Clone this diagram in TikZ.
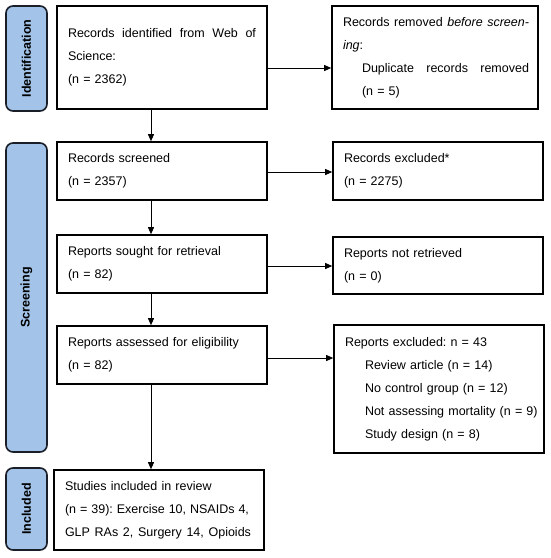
\documentclass[tikz,border=0pt]{standalone}
\usepackage{fontspec}
\setmainfont{Liberation Sans}
\usetikzlibrary{arrows.meta}
\definecolor{stageblue}{RGB}{163,196,232}
\definecolor{stageline}{RGB}{25,30,40}
\tikzset{
  box/.style={draw=black, line width=1.6pt, inner xsep=11pt, inner ysep=0pt,
    align=left, font=\frenchspacing\fontsize{12.5}{23}\selectfont, anchor=center},
  stage/.style={draw=stageline, line width=1.6pt, fill=stageblue, rounded corners=7pt,
    font=\bfseries\fontsize{12.5}{15}\selectfont, rotate=90, inner sep=0pt, anchor=center},
  arr/.style={-{Triangle[length=7pt,width=6pt]}, line width=0.8pt}
}
\newcommand{\jline}[2]{\makebox[#1][s]{\spaceskip=0.3em plus 1fil\relax #2}}
\newcommand{\iline}[1]{\hspace*{20pt}\mbox{#1}}
\begin{document}
\begin{tikzpicture}[x=1pt,y=-1pt]
\useasboundingbox (0,0) rectangle (550,558);
% stage labels
\node[stage, minimum width=105pt, minimum height=41pt] (lid) at (26.5,58.5) {Identification};
\node[stage, minimum width=309pt, minimum height=41pt] (lsc) at (26.5,297.5) {Screening};
\node[stage, minimum width=82pt, minimum height=41pt] (lin) at (26.5,509) {Included};
% left column
\node[box, minimum width=210pt, minimum height=103pt, text width=188pt] (id1) at (162,57.5)
  {\jline{188pt}{Records identified from Web of}\\Science:\\(n = 2362)};
\node[box, minimum width=210pt, minimum height=58pt, text width=188pt] (scr) at (162,171)
  {Records screened\\(n = 2357)};
\node[box, minimum width=210pt, minimum height=58pt, text width=188pt] (sought) at (162,264)
  {Reports sought for retrieval\\(n = 82)};
\node[box, minimum width=210pt, minimum height=58pt, text width=188pt] (assess) at (162,355)
  {Reports assessed for eligibility\\(n = 82)};
\node[box, minimum width=210pt, minimum height=80pt, text width=188pt] (studies) at (159,510)
  {Studies included in review\\\jline{184pt}{(n = 39): Exercise 10, NSAIDs 4,}\\\jline{186pt}{GLP RAs 2, Surgery 14, Opioids}};
% right column
\node[box, minimum width=206pt, minimum height=103pt, text width=184pt] (rem) at (435,57.5)
  {\jline{186pt}{Records removed \emph{before screen-}}\\\emph{ing}:\\\hspace*{19pt}\jline{167pt}{Duplicate records removed}\\\hspace*{19pt}(n = 5)};
\node[box, minimum width=210pt, minimum height=58pt, text width=188pt] (excl) at (438,171)
  {Records excluded*\\(n = 2275)};
\node[box, minimum width=210pt, minimum height=57pt, text width=188pt] (notret) at (438,265.5)
  {Reports not retrieved\\(n = 0)};
\node[box, minimum width=210pt, minimum height=128pt, text width=188pt] (repexcl) at (439,389)
  {Reports excluded: n = 43\\\iline{Review article (n = 14)}\\\iline{No control group (n = 12)}\\\iline{Not assessing mortality (n = 9)}\\\iline{Study design (n = 8)}};
% connector guides
\coordinate (vx) at (151,0);
\coordinate (h1) at (0,68);
\coordinate (h2) at (0,172);
\coordinate (h3) at (0,266);
\coordinate (h4) at (0,358);
% vertical arrows
\draw[arr] (id1.south -| vx) -- (scr.north -| vx);
\draw[arr] (scr.south -| vx) -- (sought.north -| vx);
\draw[arr] (sought.south -| vx) -- (assess.north -| vx);
\draw[arr] (assess.south -| vx) -- (studies.north -| vx);
% horizontal arrows
\draw[arr] (id1.east |- h1) -- (rem.west |- h1);
\draw[arr] (scr.east |- h2) -- (excl.west |- h2);
\draw[arr] (sought.east |- h3) -- (notret.west |- h3);
\draw[arr] (assess.east |- h4) -- (repexcl.west |- h4);
\end{tikzpicture}
\end{document}
